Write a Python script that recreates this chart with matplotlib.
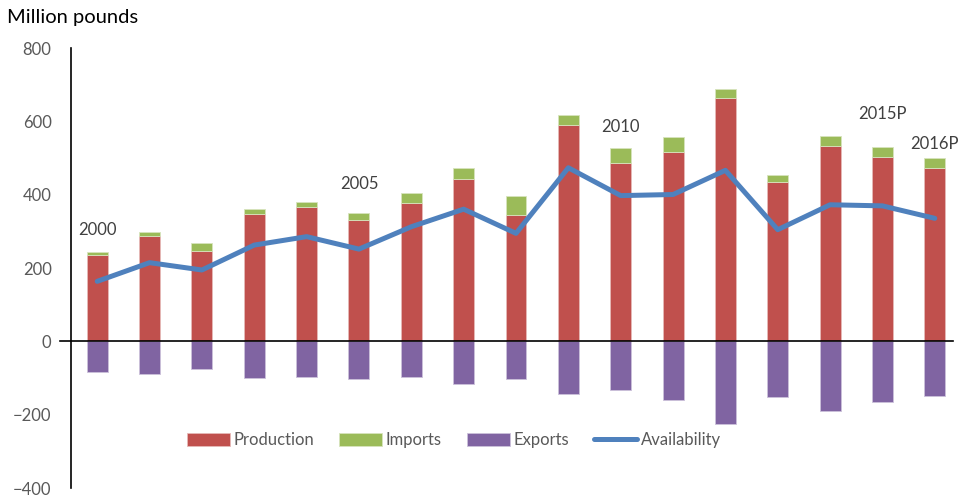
import matplotlib
matplotlib.use("agg")
from matplotlib import pyplot as plt
import numpy as np

plt.rcParams["font.family"] = ["Lato", "DejaVu Sans"]

years = ["2000", "2001", "2002", "2003", "2004", "2005", "2006", "2007", "2008",
         "2009", "2010", "2011", "2012", "2013", "2014", "2015P", "2016P"]
production = [237, 288, 248, 347, 367, 331, 378, 442, 346,
              591, 486, 516, 664, 434, 534, 503, 472]
imports = [7, 11, 20, 14, 14, 20, 27, 32, 50,
           26, 42, 41, 26, 19, 27, 29, 29]
exports = [-83, -88, -76, -101, -98, -103, -96, -115, -103,
           -144, -132, -160, -225, -151, -191, -166, -149]
availability = [164, 215, 195, 263, 286, 252, 313, 361, 295,
                474, 398, 401, 467, 305, 373, 370, 336]

# which year labels are written above the bars, and where
shown_labels = {0: 304, 5: 430, 10: 585, 15: 620, 16: 538}

red = "#C0504D"
green = "#9BBB59"
purple = "#8064A2"
blue = "#4F81BD"
gray = "#595959"

fig = plt.figure(figsize=(9.6, 4.97), dpi=100)
ax = fig.add_axes([0.074, 0.0181, 0.927, 0.8847])

x = np.arange(len(years))
w = 0.4
b1 = ax.bar(x, production, w, color=red, edgecolor="#e6b9b8", linewidth=0.6, zorder=2)
b2 = ax.bar(x, imports, w, bottom=production, color=green, edgecolor="#d7e4bd", linewidth=0.6,
            zorder=2)
b3 = ax.bar(x, exports, w, color=purple, edgecolor="#ccc1da", linewidth=0.6, zorder=2)
l1, = ax.plot(x, availability, color=blue, linewidth=3.6, zorder=3, solid_capstyle="round")

for i, ypos in shown_labels.items():
    ax.text(x[i], ypos, years[i], ha="center", va="center", fontsize=12, color="#404040")

ax.set_xlim(-0.5, 16.5)
ax.set_ylim(-400, 800)
ax.set_yticks([-400, -200, 0, 200, 400, 600, 800])
ax.set_xticks([])
ax.tick_params(axis="y", length=0, pad=14, labelsize=12, labelcolor=gray)
for s in ["top", "right", "bottom"]:
    ax.spines[s].set_visible(False)
ax.spines["left"].set_linewidth(1.2)
ax.spines["left"].set_color("black")

# zero line, sticking out a bit left of the axis
ax.plot([-0.0124, 0.991], [1 / 3, 1 / 3], transform=ax.transAxes, color="black",
        linewidth=1.2, clip_on=False, zorder=4)

ax.legend([b1, b2, b3, l1], ["Production", "Imports", "Exports", "Availability"],
          loc="center", bbox_to_anchor=(0.43, 0.109), ncol=4, frameon=False,
          fontsize=12, labelcolor=gray, handlelength=2.6, handleheight=0.8,
          columnspacing=1.5, handletextpad=0.2)

fig.text(0.007, 0.965, "Million pounds", fontsize=14.5, color="black", va="center")

fig.savefig("out.png", dpi=100)
